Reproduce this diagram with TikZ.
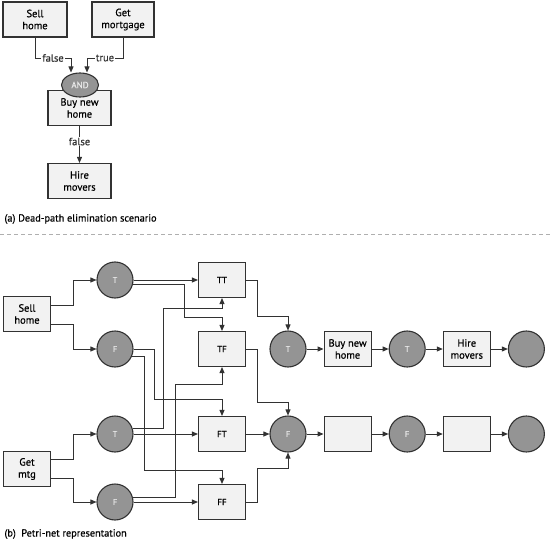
\documentclass[tikz,border=0pt]{standalone}
\usepackage{fontspec}
\setmainfont{PT Sans}[FakeBold=0.5]
\usetikzlibrary{arrows.meta,shapes.geometric,positioning}
\definecolor{linegray}{RGB}{50,50,50}
\definecolor{boxfill}{RGB}{242,242,242}
\definecolor{placefill}{RGB}{148,148,148}
\definecolor{dashgray}{RGB}{175,175,175}
\tikzset{
  box/.style={rectangle,draw=linegray,fill=boxfill,line width=1.1pt,
              minimum width=#1,minimum height=35pt,align=center,
              inner sep=1pt,font=\fontsize{10.5}{12}\selectfont},
  box/.default=47pt,
  place/.style={circle,draw=linegray,fill=placefill,line width=1.1pt,
                minimum size=36pt,inner sep=0pt,text=white!92!black,
                font=\fontsize{8.5}{10}\selectfont},
  arrow/.style={-{Triangle[length=6pt,width=5pt]},line width=0.9pt,linegray},
  lbl/.style={fill=white,inner sep=1pt,font=\fontsize{10.5}{12}\selectfont},
  caption/.style={anchor=west,font=\fontsize{10.3}{12}\selectfont},
}

\begin{document}
\begin{tikzpicture}[x=1pt,y=-1pt,node distance=17pt,
    tbox/.style={box,font=\fontsize{9}{10}\selectfont},
    andgate/.style={ellipse,draw=linegray,fill=placefill,line width=1.1pt,
                    minimum width=37pt,minimum height=24pt,inner sep=0pt,
                    text=white!92!black,font=\fontsize{9}{10}\selectfont},
  ]
  \useasboundingbox (0,0) rectangle (550,541);

  % (a) dead-path elimination
  \node[box=64pt] (sella) at (35,19.5) {Sell\\home};
  \node[box=62pt] (mortg) at (123,19.5) {Get\\mortgage};
  \node[box=63pt] (buya) at (79.5,108) {Buy new\\home};
  \node[andgate] (and) at (80,85) {AND};
  \node[box=63pt] (hirea) at (79.5,181) {Hire\\movers};

  \draw[arrow] (sella) |- (71,58) node[lbl,pos=0.75] {false}
    -- ([xshift=-9pt]and.north);
  \draw[arrow] (mortg) |- (87,58) node[lbl,pos=0.75] {true}
    -- ([xshift=7pt]and.north);
  \draw[arrow] (buya) -- node[lbl,pos=0.42] {false} (hirea);

  \node[caption] (capa) at (1,219) {(a) Dead-path elimination scenario};
  \draw[dashgray,line width=0.8pt,dash pattern=on 4pt off 3pt] (0,234) -- (550,234);

  % (b) petri net
  \node[box] (sellb) at (27,314) {Sell\\home};
  \node[box] (mtg) at (27,469) {Get\\mtg};

  \node[place] (ts) at (115,280) {T};
  \node[place] (fs) at (115,349) {F};
  \node[place] (tm) at (115,434) {T};
  \node[place] (fm) at (115,502) {F};

  \node[tbox] (tt) at (222,280) {TT};
  \node[tbox] (tf) at (222,349) {TF};
  \node[tbox] (ft) at (222,434) {FT};
  \node[tbox] (ff) at (222,502) {FF};

  \node[place] (t2) at (288,349) {T};
  \node[box,right=of t2] (buyb) {Buy new\\home};
  \node[place,right=of buyb] (t3) {T};
  \node[box,right=of t3] (hireb) {Hire\\movers};
  \node[place,right=of hireb] (endt) {};

  \node[place] (f2) at (288,434) {F};
  \node[box,right=of f2] (buyf) {};
  \node[place,right=of buyf] (f3) {F};
  \node[box,right=of f3] (hiref) {};
  \node[place,right=of hiref] (endf) {};

  \draw[arrow] ([yshift=9pt]sellb.east) -- ++(22,0) |- (ts);
  \draw[arrow] ([yshift=-10pt]sellb.east) -- ++(22,0) |- (fs);
  \draw[arrow] ([yshift=10pt]mtg.east) -- ++(22,0) |- (tm);
  \draw[arrow] ([yshift=-9pt]mtg.east) -- ++(22,0) |- (fm);

  \draw[arrow] (ts) -- (tt);
  \draw[arrow] (ts.-13) -| (184,317) -| (tf);
  \draw[arrow] (fs) -| (154,399) -| (ft);
  \draw[arrow] (fs.-22) -| (144,470) -| (ff);
  \draw[arrow] (tm.19) -| (163,308) -| (tt);
  \draw[arrow] (tm) -- (ft);
  \draw[arrow] (fm.14) -| (175,384) -| (tf);
  \draw[arrow] (fm) -- (ff);

  \draw[arrow] (tt) -| (257,316) -| (t2);
  \draw[arrow] (tf) -| (257,402) -| (f2);
  \draw[arrow] (ft) -- (f2);
  \draw[arrow] (ff) -| (257,468) -| (f2);

  \foreach \a/\b in {t2/buyb,buyb/t3,t3/hireb,hireb/endt,
                     f2/buyf,buyf/f3,f3/hiref,hiref/endf}
    \draw[arrow] (\a) -- (\b);

  \node[caption] (capb) at (1,534) {(b)\ \ Petri-net representation};
\end{tikzpicture}
\end{document}
